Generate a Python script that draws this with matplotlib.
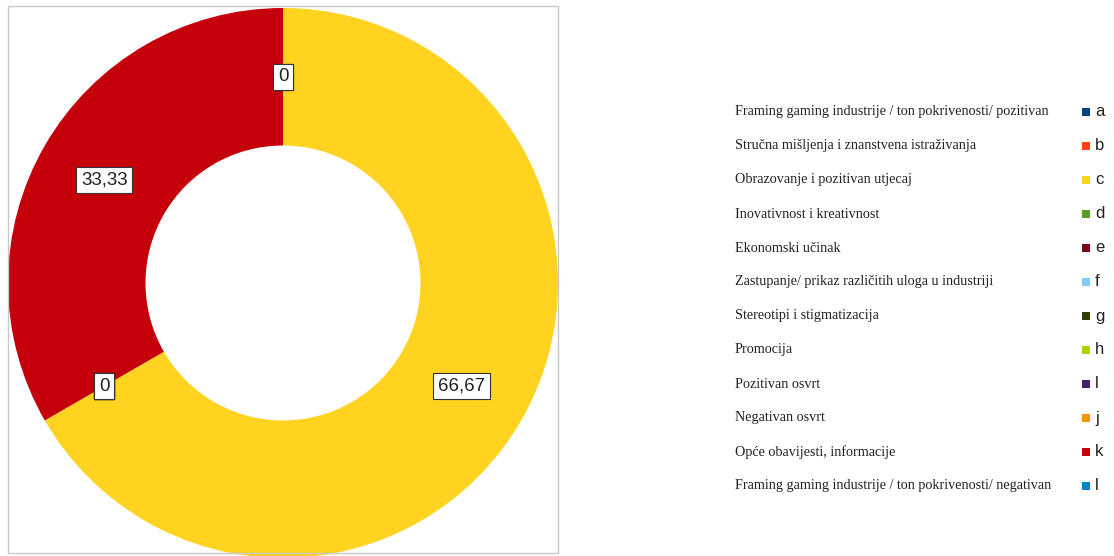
import matplotlib
matplotlib.use("Agg")
import matplotlib.pyplot as plt
from matplotlib.patches import Rectangle
import numpy as np

categories = [
    "Framing gaming industrije / ton pokrivenosti/ pozitivan",
    "Stručna mišljenja i znanstvena istraživanja",
    "Obrazovanje i pozitivan utjecaj",
    "Inovativnost i kreativnost",
    "Ekonomski učinak",
    "Zastupanje/ prikaz različitih uloga u industriji",
    "Stereotipi i stigmatizacija",
    "Promocija",
    "Pozitivan osvrt",
    "Negativan osvrt",
    "Opće obavijesti, informacije",
    "Framing gaming industrije / ton pokrivenosti/ negativan",
]
letters = ["a", "b", "c", "d", "e", "f", "g", "h", "l", "j", "k", "l"]
values = [0, 0, 66.67, 0, 0, 0, 0, 0, 0, 0, 33.33, 0]
colors = ["#004586", "#ff420e", "#ffd320", "#579d1c", "#7e0021", "#83caff",
          "#314004", "#aecf00", "#4b1f6f", "#ff950e", "#c5000b", "#0084d1"]

W, H = 1114, 556
fig = plt.figure(figsize=(W / 100, H / 100), dpi=100)

# pie area, pixel geometry
cx, cy, r = 283, 283, 275
ax = fig.add_axes([(cx - r) / W, (H - cy - r) / H, 2 * r / W, 2 * r / H])
wedges, _ = ax.pie(values, colors=colors, startangle=90, counterclock=False,
                   radius=1, wedgeprops=dict(width=0.5, linewidth=0))
ax.set_xlim(-1, 1)
ax.set_ylim(-1, 1)
ax.set_aspect("equal")
ax.axis("off")

for w, v in zip(wedges, values):
    ang = np.deg2rad((w.theta1 + w.theta2) / 2)
    txt = f"{v:.2f}".replace(".", ",") if v else "0"
    ax.text(0.75 * np.cos(ang), 0.75 * np.sin(ang), txt, ha="center", va="center",
            fontsize=13.5, family="Liberation Sans", color="#222222",
            bbox=dict(boxstyle="square,pad=0.25", fc="white", ec="#333333", lw=0.8))

# frame around the chart
fig.patches.append(Rectangle((8 / W, (H - 553) / H), 550 / W, 547 / H,
                             transform=fig.transFigure, fill=False,
                             ec="#c8c8c8", lw=1))

# legend
y0, dy = 112, 34
for i, (cat, let, col) in enumerate(zip(categories, letters, colors)):
    y = y0 + i * dy
    fig.text(735 / W, 1 - y / H, cat, ha="left", va="center", fontsize=10.2,
             family="Liberation Serif", color="#222222")
    fig.patches.append(Rectangle((1082 / W, 1 - (y + 4) / H), 8 / W, 8 / H,
                                 transform=fig.transFigure, fc=col, ec="none"))
    fig.text(1095 / W, 1 - y / H, let, ha="left", va="center", fontsize=12,
             family="Liberation Sans", color="#222222")

fig.savefig("out.png", dpi=100)
